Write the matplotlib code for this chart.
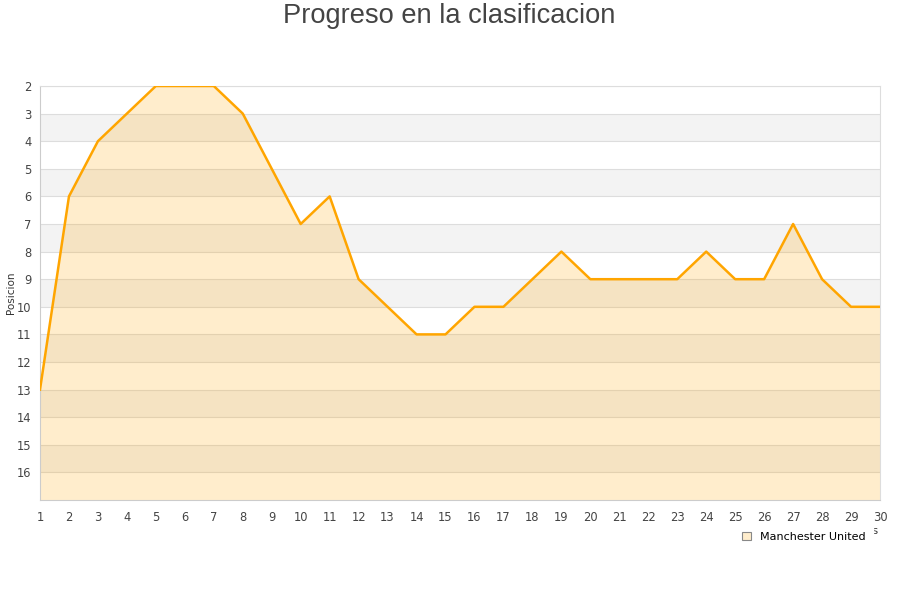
import matplotlib
matplotlib.use("Agg")
import matplotlib.pyplot as plt
from matplotlib.patches import Patch

jornadas = list(range(1, 31))
posicion = [13, 6, 4, 3, 2, 2, 2, 3, 5, 7, 6, 9, 10, 11, 11, 10, 10, 9, 8, 9,
            9, 9, 9, 8, 9, 9, 7, 9, 10, 10]
y_ticks = list(range(2, 17))
team = "Manchester United"
title = "Progreso en la clasificacion"

fig = plt.figure(figsize=(9, 6), dpi=100)
ax = fig.add_axes([40/900, 1-500/600, 840/900, 414/600])
ax.set_xlim(1, 30)
ax.set_ylim(17, 2)

# alternating bands
for v in range(2, 17):
    if v % 2 == 1:
        ax.axhspan(v, v + 1, color="#f3f3f3", zorder=0, lw=0)
for v in range(2, 17):
    ax.axhline(v, color="#dddddd", lw=0.8, zorder=1)

ax.fill_between(jornadas, posicion, 17, color="#ffa500", alpha=0.2, lw=0, zorder=2)
ax.plot(jornadas, posicion, color="#ffa500", lw=1.8, zorder=3)

ax.set_yticks(y_ticks)
ax.set_xticks(jornadas)
ax.tick_params(axis="both", length=0, labelsize=8.3, colors="#444444", pad=6)
ax.tick_params(axis="x", pad=8)
for s in ["top", "right"]:
    ax.spines[s].set_color("#dddddd")
for s in ["left", "bottom"]:
    ax.spines[s].set_color("#cccccc")
for s in ax.spines.values():
    s.set_linewidth(0.8)

fig.text(11/900, 1-293/600, "Posicion", rotation=90, ha="center", va="center",
         fontsize=7.5, color="#333333")
fig.text(879/900, 1-531/600, "Jornadas", ha="right", va="center", fontsize=8, color="#333333")

fig.suptitle(title, x=449/900, y=1-16/600, va="center", fontsize=19.6,
             family="Liberation Sans", color="#444444")

handle = Patch(facecolor="#ffedcc", edgecolor="#888888", lw=0.8)
leg = fig.legend([handle], [team], loc="center", bbox_to_anchor=(804/900, 1-537/600),
                 frameon=True, fontsize=8, handlelength=0.8, handleheight=0.8,
                 handletextpad=0.8, borderpad=0.7, fancybox=False, framealpha=1.0)
leg.get_frame().set_edgecolor("white")
leg.get_frame().set_facecolor("white")
leg.set_zorder(10)

fig.savefig("out.png", dpi=100)
